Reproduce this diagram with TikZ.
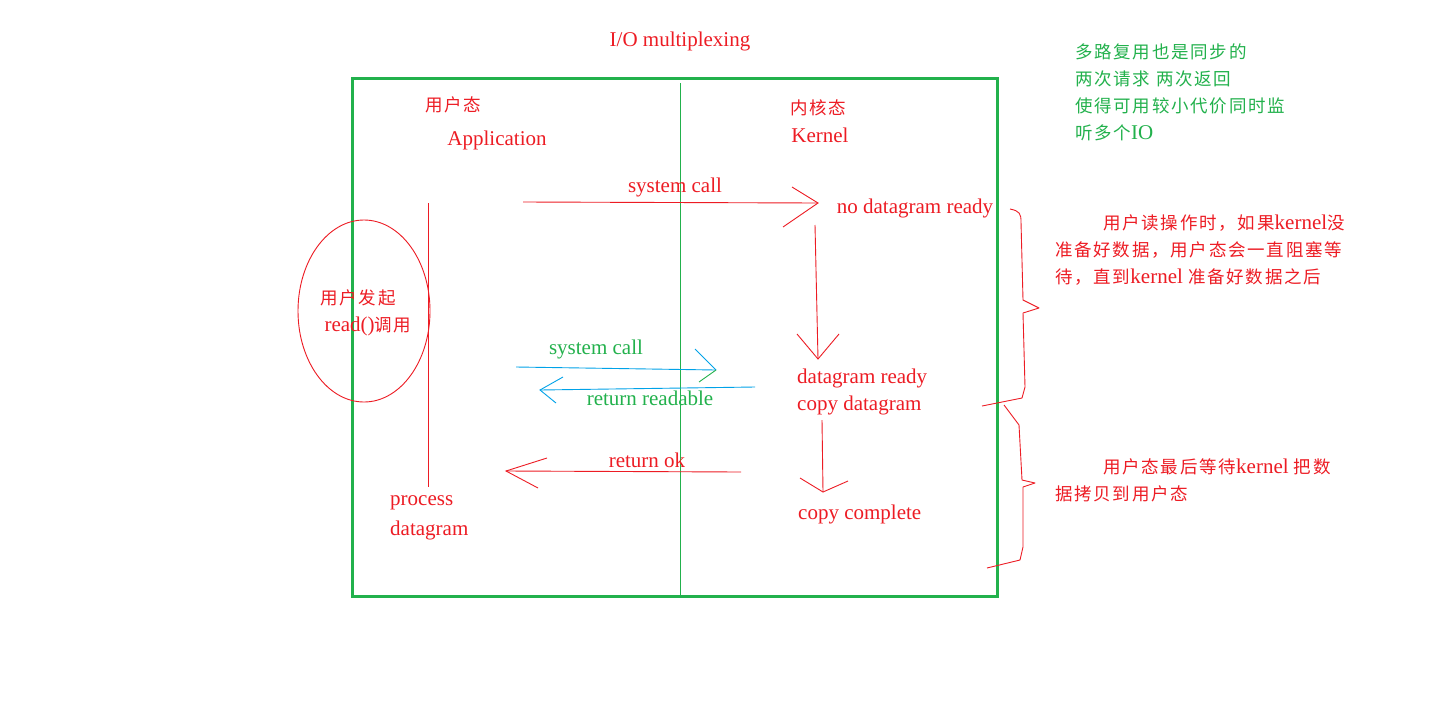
\documentclass[tikz,border=0pt]{standalone}
\usepackage{fontspec}
\setmainfont{Liberation Serif}
\newfontfamily\cjk[LetterSpace=10]{Noto Sans CJK SC}
\newcommand{\cjkt}{\cjk\fontsize{17.5}{27}\selectfont}
\definecolor{pred}{RGB}{237,28,36}
\definecolor{pgreen}{RGB}{34,177,76}
\definecolor{pblue}{RGB}{0,162,232}
\begin{document}
\begin{tikzpicture}[x=1pt,y=-1pt,
  txt/.style={font=\fontsize{21}{27}\selectfont, inner sep=0pt, text=pred},
  gtxt/.style={txt, text=pgreen},
  cj/.style={font=\cjkt, inner sep=0pt, text=pred},
  para/.style={font=\fontsize{21}{27}\selectfont, inner sep=0pt, align=left, anchor=north west},
  rline/.style={draw=pred, line width=0.9pt},
  bline/.style={draw=pblue, line width=0.9pt},
  gline/.style={draw=pgreen, line width=0.9pt},
  frame/.style={draw=pgreen, line width=3pt}]
\useasboundingbox (0,0) rectangle (1434,718);
\fill[white] (0,0) rectangle (1434,718);

% frame and divider
\draw[frame] (352,78) rectangle (997,596);
\coordinate (divtop) at (680,83);
\coordinate (divbot) at (680,598);
\draw[gline] (divtop) -- (divbot);

% title and headers
\node[txt] (title) at (680,41) {I/O multiplexing};
\node[cj] (user) at (453,105) {用户态};
\node[txt] (app) at (497,140) {Application};
\node[cj] (kern) at (818,108) {内核态};
\node[txt] (kernel) at (820,135) {Kernel};

% user side
\coordinate (utop) at (428,203);
\coordinate (ubot) at (428,487);
\draw[rline] (utop) -- (ubot);
\draw[rline] (364,311) ellipse [x radius=66, y radius=91];
\node[cj] (start1) at (358,298) {用户发起};
\node[txt] (start2) at (368,326) {read(){\cjkt 调用}};

% kernel texts
\node[txt] (nodg) at (915,208) {no datagram ready};
\node[txt, anchor=west] (dgr) at (797,378) {datagram ready};
\node[txt, anchor=west] (cpd) at (797,405) {copy datagram};
\node[txt, anchor=west] (cpc) at (798,514) {copy complete};
\node[txt, anchor=west] (proc) at (390,503) {process};
\node[txt, anchor=west] (procd) at (390,530) {datagram};

% system call (red)
\coordinate (sc1s) at (523,202);
\coordinate (sc1e) at (818,203);
\draw[rline] (sc1s) -- (sc1e);
\draw[rline] (792,187) -- (sc1e) -- (783,227);
\node[txt] (sc1l) at (675,187) {system call};

% down arrow 1
\coordinate (d1s) at (815,225);
\coordinate (d1e) at (818,359);
\draw[rline] (d1s) -- (d1e);
\draw[rline] (797,334) -- (d1e) -- (839,334);

% system call (blue)
\coordinate (sc2s) at (516,367);
\coordinate (sc2e) at (716,370);
\draw[bline] (sc2s) -- (sc2e);
\draw[bline] (695,349) -- (sc2e);
\draw[gline] (sc2e) -- (699,382);
\node[gtxt] (sc2l) at (596,349) {system call};

% return readable
\coordinate (rrs) at (755,387);
\coordinate (rre) at (540,390);
\draw[bline] (rrs) -- (rre);
\draw[bline] (563,377) -- (rre) -- (556,403);
\node[gtxt] (rrl) at (650,398) {return readable};

% down arrow 2
\coordinate (d2s) at (822,420);
\coordinate (d2e) at (823,492);
\draw[rline] (d2s) -- (d2e);
\draw[rline] (800,478) -- (d2e) -- (848,481);

% return ok
\coordinate (ros) at (741,472);
\coordinate (roe) at (506,471);
\draw[rline] (ros) -- (roe);
\draw[rline] (547,458) -- (roe) -- (538,488);
\node[txt] (rol) at (647,460) {return ok};

% braces
\draw[rline, line join=round] (1010,209) .. controls (1020,211) and (1021,214) .. (1021,222)
  -- (1023,300) -- (1039,308) -- (1023,313) -- (1025,387) -- (1022,398) -- (982,406);
\draw[rline, line join=round] (1004,405) -- (1019,425) -- (1022,480) -- (1035,483) -- (1023,487)
  -- (1023,547) -- (1020,560) -- (987,568);

% notes
\node[para, text=pred] (note1) at (1055,215) {%
\hspace*{48pt}{\cjkt 用户读操作时，如果}kernel{\cjkt 没}\\
{\cjkt 准备好数据，用户态会一直阻塞等}\\
{\cjkt 待，直到}kernel {\cjkt 准备好数据之后}};
\node[para, text=pred] (note2) at (1055,459) {%
\hspace*{48pt}{\cjkt 用户态最后等待}kernel {\cjkt 把数}\\
{\cjkt 据拷贝到用户态}};
\node[para, text=pgreen] (note3) at (1075,44) {%
{\cjkt 多路复用也是同步的}\\
{\cjkt 两次请求 两次返回}\\
{\cjkt 使得可用较小代价同时监}\\
{\cjkt 听多个}IO};
\end{tikzpicture}
\end{document}
